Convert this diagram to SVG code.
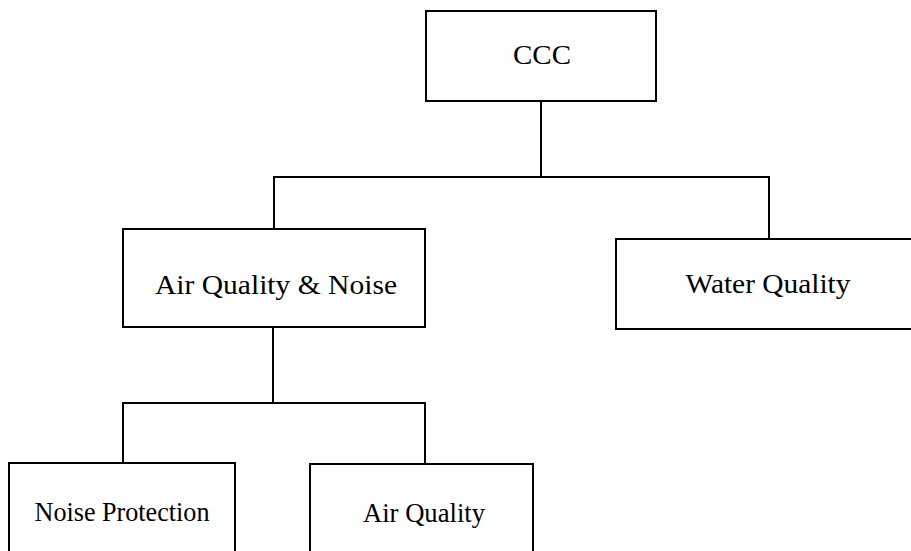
<svg xmlns="http://www.w3.org/2000/svg" width="911" height="551" viewBox="0 0 911 551">
<style>
.box{fill:#fff;stroke:#000;stroke-width:2}
.lbl{font-family:"Liberation Serif","Times New Roman",serif;font-size:28px;fill:#000;text-anchor:middle}
.con{fill:none;stroke:#000;stroke-width:2}
</style>
<rect width="911" height="551" fill="#fff"/>
<g id="connectors">
<path class="con" d="M541 101V177"/>
<path class="con" d="M274 229V177H769V239"/>
<path class="con" d="M273 327V403"/>
<path class="con" d="M123 463V403H425V464"/>
</g>
<g id="ccc"><rect class="box" x="426" y="11" width="230" height="90"/><text class="lbl" x="542" y="64" textLength="58" lengthAdjust="spacingAndGlyphs">CCC</text></g>
<g id="aqn"><rect class="box" x="123" y="229" width="302" height="98"/><text class="lbl" x="276" y="294" textLength="242" lengthAdjust="spacingAndGlyphs">Air Quality &amp; Noise</text></g>
<g id="wq"><rect class="box" x="616" y="239" width="310" height="90"/><text class="lbl" x="768" y="293" textLength="165" lengthAdjust="spacingAndGlyphs">Water Quality</text></g>
<g id="np"><rect class="box" x="9" y="463" width="226" height="100"/><text class="lbl" x="122" y="521" textLength="175" lengthAdjust="spacingAndGlyphs">Noise Protection</text></g>
<g id="aq"><rect class="box" x="310" y="464" width="223" height="100"/><text class="lbl" x="424" y="522" textLength="122" lengthAdjust="spacingAndGlyphs">Air Quality</text></g>
</svg>
